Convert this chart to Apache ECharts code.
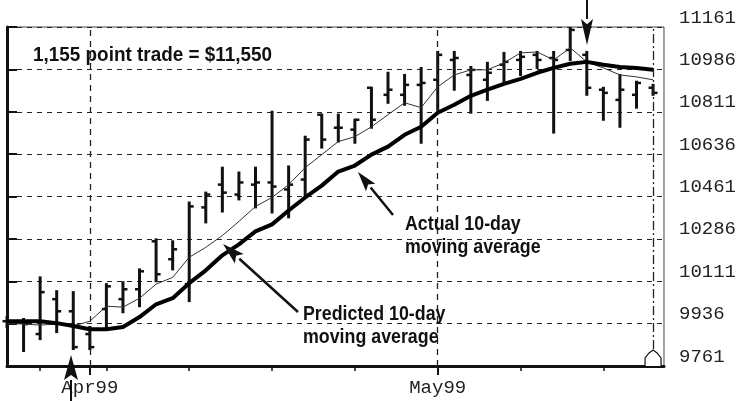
<!DOCTYPE html>
<html><head><meta charset="utf-8">
<script src="https://cdn.jsdelivr.net/npm/echarts@6/dist/echarts.min.js"></script>
<style>html,body{margin:0;padding:0;background:#fff}#c{width:739px;height:401px}</style>
</head><body><div id="c"></div>
<script>
// Trading days (daily bars)
const dates = ['1999-03-25','1999-03-26','1999-03-29','1999-03-30','1999-03-31',
  '1999-04-01','1999-04-05','1999-04-06','1999-04-07','1999-04-08','1999-04-09',
  '1999-04-12','1999-04-13','1999-04-14','1999-04-15','1999-04-16',
  '1999-04-19','1999-04-20','1999-04-21','1999-04-22','1999-04-23',
  '1999-04-26','1999-04-27','1999-04-28','1999-04-29','1999-04-30',
  '1999-05-03','1999-05-04','1999-05-05','1999-05-06','1999-05-07',
  '1999-05-10','1999-05-11','1999-05-12','1999-05-13','1999-05-14',
  '1999-05-17','1999-05-18','1999-05-19','1999-05-20'];
const opens  = [9946,9946,9893,10037,9987,9893,9996,10037,10078,10276,10202,10099,10416,10510,10469,10510,10519,10490,10531,10799,10745,10737,10910,10881,10881,10922,10943,11025,10963,10943,11005,11025,11046,11033,11066,11046,10902,10860,10881,10910];
const highs  = [9963,9955,10127,10070,10066,9922,10099,10107,10160,10284,10276,10436,10477,10580,10560,10580,10811,10585,10708,10799,10799,10778,10910,10972,10963,10992,11058,11058,10996,11013,11054,11058,11058,11058,11157,11058,10910,10963,10935,10922];
const lows   = [9922,9823,9872,9901,9831,9831,9913,9983,10008,10111,10160,10029,10354,10399,10449,10416,10395,10375,10461,10663,10688,10683,10745,10848,10840,10683,10819,10902,10807,10860,10930,10963,10992,10725,11025,10881,10778,10749,10828,10881];
const closes = [9942,9934,10066,9987,9839,9839,10090,10078,10152,10140,10243,10420,10469,10477,10519,10519,10502,10510,10696,10696,10745,10778,10778,10902,10922,10930,11046,11033,10984,10972,11017,11038,11025,11025,11149,10910,10889,10902,10930,10889];
const actualMA    = [9938,9934,9930,9934,9926,9946,10008,10004,10041,10099,10127,10210,10251,10300,10358,10420,10457,10510,10580,10634,10688,10708,10749,10799,10848,10828,10914,10963,10984,10984,11013,11054,11058,11025,11075,11017,10992,10963,10955,10943];
const predictedMA = [9946,9946,9946,9938,9926,9913,9913,9922,9963,10016,10041,10103,10156,10218,10263,10317,10346,10403,10457,10506,10564,10589,10634,10667,10716,10749,10807,10840,10877,10902,10926,10947,10972,10992,11009,11017,11005,10996,10992,10984];
// Axis tick labels
const yMin = 9761, yMax = 11161, yStep = 175;
const monthDates = ['1999-04-01','1999-05-03'];
const monthLabels = ['Apr99','May99'];
const weekTickDates = ['1999-03-29','1999-04-05','1999-04-12','1999-04-19','1999-04-26','1999-05-10','1999-05-17'];
const lastMarkDate = '1999-05-20';

const monthIdx = monthDates.map(d => dates.indexOf(d));
const weekIdx = weekTickDates.map(d => dates.indexOf(d));
const lastIdx = dates.indexOf(lastMarkDate);
const xMax = dates.length - 1 + 0.66;

const ohlc = dates.map((d, i) => [i, opens[i], highs[i], lows[i], closes[i]]);
const INK = '#111';
const MONO = '"Liberation Mono","DejaVu Sans Mono",monospace';
const COND = '"Liberation Sans Narrow","Liberation Sans",sans-serif';

function arrow(x1, y1, x2, y2, len, wid, lw) {
  const a = Math.atan2(y2 - y1, x2 - x1);
  const bx = x2 - len * Math.cos(a), by = y2 - len * Math.sin(a);
  const px = -Math.sin(a) * wid / 2, py = Math.cos(a) * wid / 2;
  return [
    {type: 'line', shape: {x1, y1, x2: bx, y2: by}, style: {stroke: INK, lineWidth: lw}, z: 100},
    {type: 'polygon', shape: {points: [[x2, y2], [bx + px, by + py], [bx + len * 0.2 * Math.cos(a), by + len * 0.2 * Math.sin(a)], [bx - px, by - py]]}, style: {fill: INK}, z: 100}
  ];
}
function note(x, y, text, size, sx) {
  return {type: 'text', x, y, scaleX: sx, z: 100,
    style: {text, font: 'bold ' + size + 'px ' + COND, fill: INK, verticalAlign: 'middle', lineHeight: 23}};
}

const chart = echarts.init(document.getElementById('c'), null, {renderer: 'canvas'});
chart.setOption({
  animation: false,
  backgroundColor: '#fff',
  grid: {left: 7, right: 73, top: 27, bottom: 35, show: true, borderColor: '#444', borderWidth: 1},
  xAxis: [{
    type: 'value', min: 0, max: xMax,
    axisLine: {show: true, onZero: false, lineStyle: {color: INK, width: 3}},
    axisTick: {show: true, customValues: weekIdx, length: 5, lineStyle: {color: INK, width: 1.5}},
    axisLabel: {show: false},
    splitLine: {show: false}
  }, {
    type: 'value', min: 0, max: xMax, position: 'bottom',
    axisLine: {show: false},
    axisTick: {show: true, customValues: monthIdx, length: 9, lineStyle: {color: INK, width: 2}},
    axisLabel: {show: true, customValues: monthIdx, margin: 12, color: '#222',
      fontFamily: MONO, fontSize: 19,
      formatter: v => monthLabels[monthIdx.indexOf(Math.round(v))] || ''},
    splitLine: {show: false}
  }],
  yAxis: {
    type: 'value', position: 'right', min: yMin, max: yMax, interval: yStep,
    axisLine: {show: true, lineStyle: {color: INK, width: 3}},
    axisTick: {show: true, length: 10, lineStyle: {color: INK, width: 2}},
    axisLabel: {margin: 15, color: '#222', fontFamily: MONO, fontSize: 19,
      verticalAlign: 'bottom', lineHeight: 19, formatter: v => String(Math.round(v))},
    splitLine: {show: true, lineStyle: {color: '#222', width: 1, type: [5, 5]}}
  },
  series: [{
    type: 'custom',
    data: ohlc,
    encode: {x: 0, y: [1, 2, 3, 4]},
    clip: false,
    z: 3,
    renderItem: function (params, api) {
      const x = api.value(0);
      const o = api.coord([x, api.value(1)]);
      const h = api.coord([x, api.value(2)]);
      const l = api.coord([x, api.value(3)]);
      const c = api.coord([x, api.value(4)]);
      const w = 4.5;
      return {type: 'group', children: [
        {type: 'line', shape: {x1: h[0], y1: h[1] - 1, x2: l[0], y2: l[1] + 1}, style: {stroke: INK, lineWidth: 3}},
        {type: 'line', shape: {x1: o[0] - w, y1: o[1], x2: o[0], y2: o[1]}, style: {stroke: INK, lineWidth: 2.5}},
        {type: 'line', shape: {x1: c[0], y1: c[1], x2: c[0] + w, y2: c[1]}, style: {stroke: INK, lineWidth: 2.5}}
      ]};
    }
  }, {
    name: 'Actual 10-day moving average',
    type: 'line', data: actualMA.map((v, i) => [i, v]), symbol: 'none', z: 4,
    lineStyle: {color: '#333', width: 1}
  }, {
    name: 'Predicted 10-day moving average',
    type: 'line', data: predictedMA.map((v, i) => [i, v]), symbol: 'none', z: 5,
    lineStyle: {color: '#000', width: 4},
    markLine: {
      silent: true, symbol: 'none', label: {show: false},
      data: [
        {xAxis: monthIdx[0], lineStyle: {color: '#222', width: 1.3, type: [6, 5]}},
        {xAxis: monthIdx[1], lineStyle: {color: '#222', width: 1.3, type: [6, 5]}},
        {xAxis: lastIdx, lineStyle: {color: '#222', width: 1.3, type: [9, 3, 2, 3]}}
      ]
    },
    markPoint: {
      silent: true, symbol: 'path://M0,16 L0,8 L4,3 L8,0 L12,3 L16,8 L16,16', symbolSize: [16, 16],
      symbolOffset: [0, -8], label: {show: false},
      itemStyle: {color: '#fff', borderColor: INK, borderWidth: 1.2},
      data: [{coord: [lastIdx, yMin]}]
    }
  }],
  graphic: [
    note(33, 55, '1,155 point trade = $11,550', 21, 0.9),
    note(405, 236, 'Actual 10-day\nmoving average', 20, 0.89),
    note(303, 326, 'Predicted 10-day\nmoving average', 20, 0.89),
    ...arrow(393, 215, 358, 172, 20, 12, 2.5),
    ...arrow(298, 312, 223, 244, 22, 13, 2.5),
    ...arrow(587, 0, 587, 45, 26, 12, 2),
    ...arrow(71, 401, 71, 355, 25, 14, 2)
  ]
});
</script></body></html>
